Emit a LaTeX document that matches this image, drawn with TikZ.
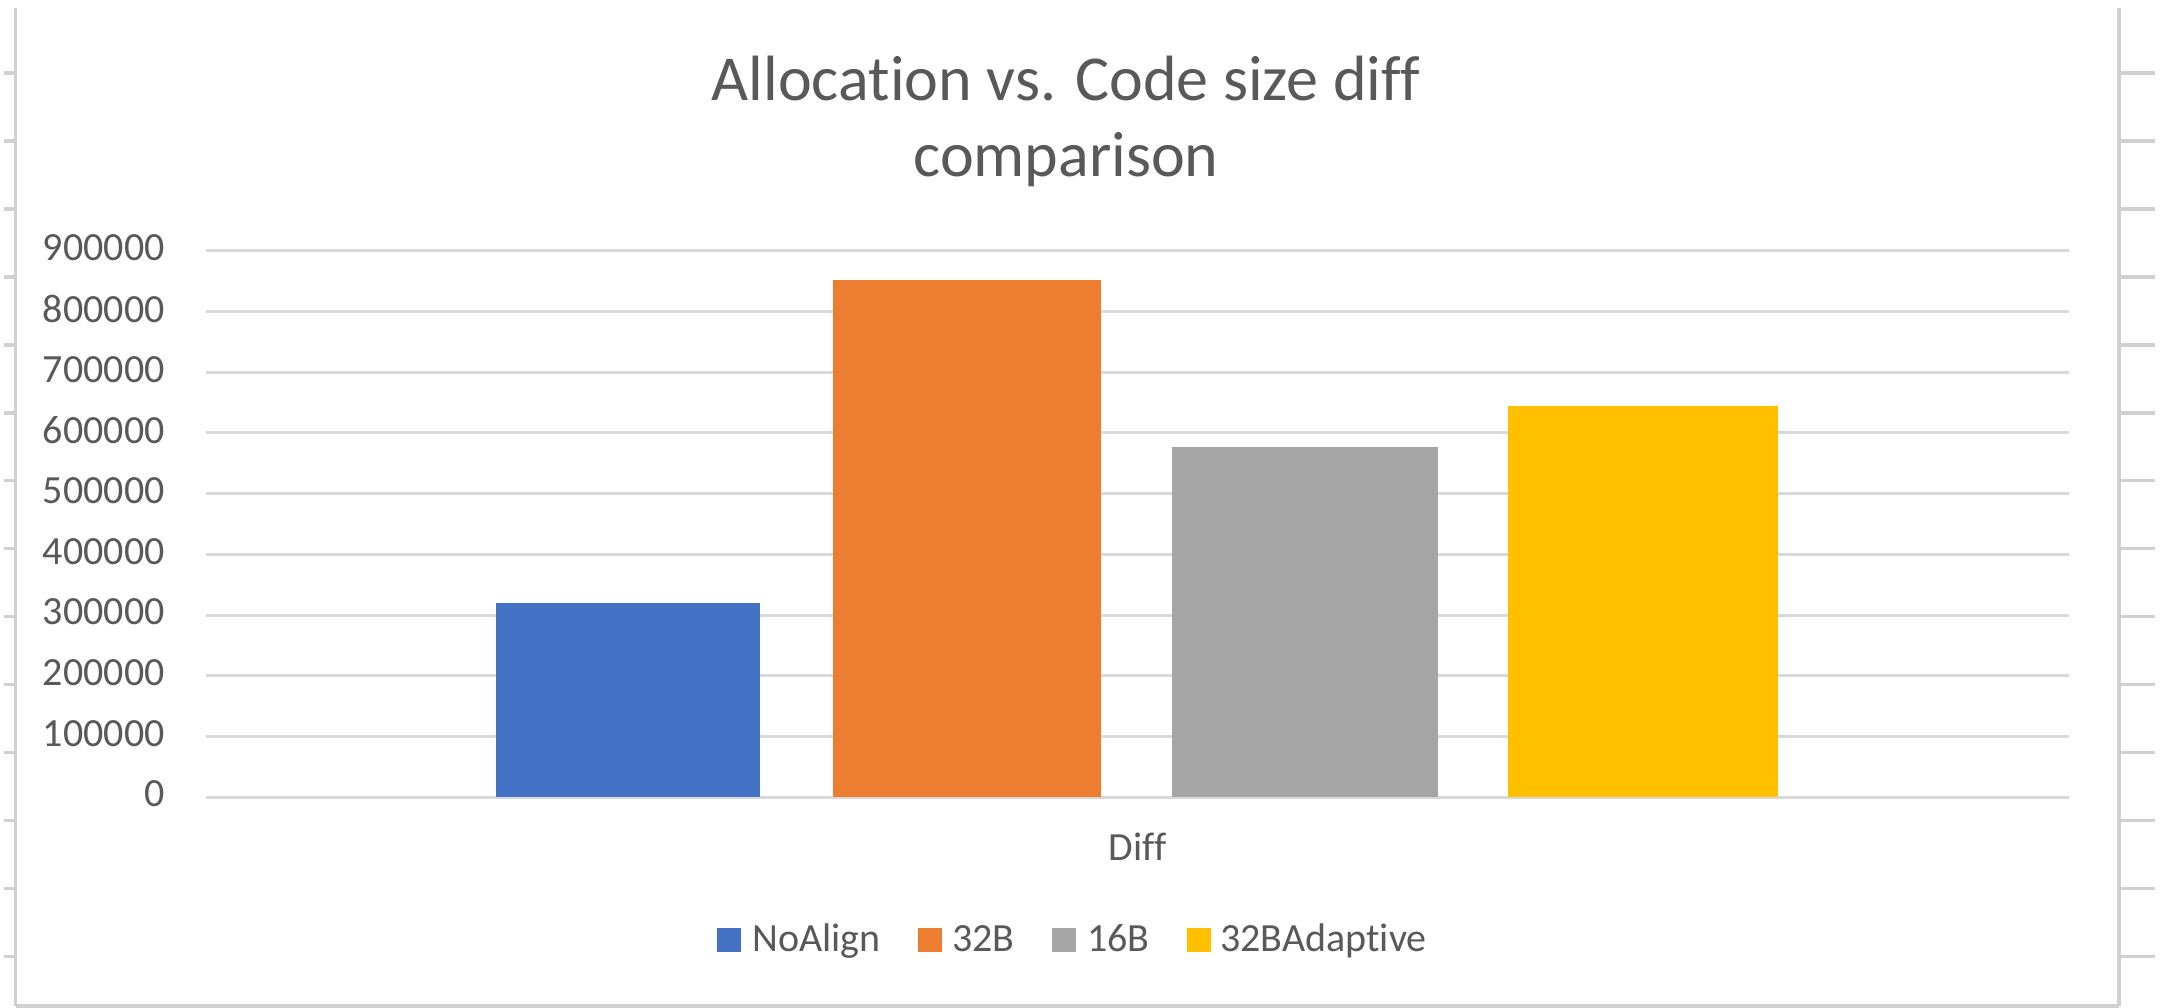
\documentclass[tikz,border=0pt]{standalone}
\usepackage{fontspec}
\setmainfont{Carlito}[Ligatures=NoCommon]
\definecolor{txt}{HTML}{595959}
\definecolor{gridc}{HTML}{D9D9D9}
\definecolor{bordc}{HTML}{D0D0D0}
\definecolor{cblue}{HTML}{4472C4}
\definecolor{corange}{HTML}{ED7D31}
\definecolor{cgray}{HTML}{A5A5A5}
\definecolor{cyellow}{HTML}{FFC000}
\tikzset{
  gridline/.style={draw=gridc, line width=1.5pt},
  borderline/.style={draw=bordc, line width=1.6pt},
  ticklbl/.style={anchor=east, inner sep=0pt, text=txt, font=\fontsize{20}{24}\selectfont},
  smalltxt/.style={anchor=base west, inner sep=0pt, text=txt, font=\fontsize{20}{24}\selectfont},
  titletxt/.style={anchor=base, inner sep=0pt, text=txt, font=\fontsize{32}{38}\selectfont},
  legsq/.style={inner sep=0pt, minimum width=12pt, minimum height=12pt, anchor=north west},
}
\begin{document}
\begin{tikzpicture}[x=0.5pt,y=-0.5pt]
\useasboundingbox (0,0) rectangle (2172,1007);
\fill[white] (0,0) rectangle (2172,1007);
% sheet borders
\coordinate (lt) at (15.5,8);
\coordinate (lb) at (15.5,1006);
\coordinate (rt) at (2119,8);
\coordinate (rb) at (2119,1006);
\draw[borderline] (lt) -- (lb);
\draw[borderline] (rt) -- (rb);
\draw[borderline] (lb) -- (rb);
\foreach \k in {0,...,13}{
  \draw[borderline] (4,{73+67.98*\k}) -- (15.5,{73+67.98*\k});
  \draw[borderline] (2119,{73+67.98*\k}) -- (2155,{73+67.98*\k});
}
% gridlines and labels
\foreach \v/\t in {0/0,1/100000,2/200000,3/300000,4/400000,5/500000,6/600000,7/700000,8/800000,9/900000}{
  \draw[gridline] (206,{797-60.67*\v}) -- (2069,{797-60.67*\v});
  \node[ticklbl] (lab\v) at (165,{797-60.67*\v-3}) {\t};
}
% bars
\fill[cblue] (496,797) rectangle (760,602.7);
\fill[corange] (833,797) rectangle (1101,280);
\fill[cgray] (1172,797) rectangle (1438,446.7);
\fill[cyellow] (1508,797) rectangle (1778,405.7);
% title
\node[titletxt] (title1) at (1066,100) {Allocation vs. Code size diff};
\node[titletxt] (title2) at (1066,176.7) {comparison};
% category label
\node[anchor=base, inner sep=0pt, text=txt, font=\fontsize{20}{24}\selectfont] (cat) at (1137.5,860) {Diff};
% legend
\node[legsq, fill=cblue] (sq1) at (717,928) {};
\node[smalltxt] (lg1) at (752,951.7) {NoAlign};
\node[legsq, fill=corange] (sq2) at (918,928) {};
\node[smalltxt] (lg2) at (952,951.7) {32B};
\node[legsq, fill=cgray] (sq3) at (1052,928) {};
\node[smalltxt] (lg3) at (1087,951.7) {16B};
\node[legsq, fill=cyellow] (sq4) at (1187,928) {};
\node[smalltxt] (lg4) at (1220,951.7) {32BAdaptive};
\end{tikzpicture}
\end{document}
